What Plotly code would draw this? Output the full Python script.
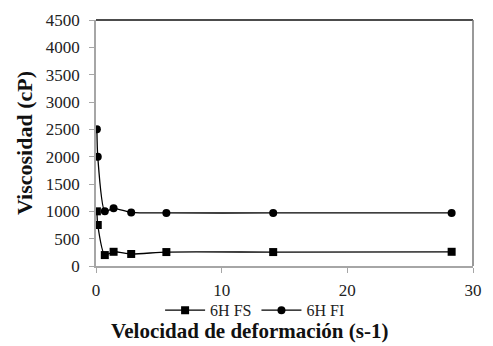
import plotly.graph_objects as go

shear_rate = [0.07, 0.14, 0.7, 1.4, 2.8, 5.6, 14.1, 28.3]
visc_fs = [1000, 750, 200, 260, 220, 255, 255, 260]
visc_fi = [2500, 2000, 1000, 1055, 980, 970, 970, 970]

x_ticks = [0, 10, 20, 30]
y_ticks = [0, 500, 1000, 1500, 2000, 2500, 3000, 3500, 4000, 4500]

font = "Liberation Serif, Times New Roman, serif"

fig = go.Figure()
fig.add_trace(go.Scatter(
    x=shear_rate, y=visc_fs, name="6H FS", mode="lines+markers",
    line=dict(color="black", width=1.3, shape="spline", smoothing=0.6),
    marker=dict(symbol="square", size=8, color="black"),
))
fig.add_trace(go.Scatter(
    x=shear_rate, y=visc_fi, name="6H FI", mode="lines+markers",
    line=dict(color="black", width=1.3, shape="spline", smoothing=0.6),
    marker=dict(symbol="circle", size=8, color="black"),
))

fig.update_layout(
    width=493, height=346,
    margin=dict(l=96, r=11, t=18, b=80),
    paper_bgcolor="white", plot_bgcolor="white",
    font=dict(family=font, size=17, color="#222"),
    showlegend=True,
    legend=dict(orientation="h", x=0.422, xanchor="center", y=-0.18, yanchor="middle",
                font=dict(family=font, size=16, color="#222"),
                itemwidth=40, tracegroupgap=0, bgcolor="rgba(0,0,0,0)"),
    xaxis=dict(range=[0, 30], tickvals=x_ticks, showgrid=False, zeroline=False,
               showline=True, linecolor="#a6a6a6", linewidth=1.5,
               ticks="outside", ticklen=5, tickcolor="#a6a6a6", ticklabelstandoff=3,
               tickfont=dict(family=font, size=17, color="#222"), mirror=False),
    yaxis=dict(range=[0, 4500], tickvals=y_ticks, showgrid=False, zeroline=False,
               showline=True, linecolor="#a6a6a6", linewidth=1.5,
               ticks="outside", ticklen=5, tickcolor="#a6a6a6", ticklabelstandoff=6,
               tickfont=dict(family=font, size=17, color="#222"),
               title=dict(text="<b>Viscosidad (cP)</b>", font=dict(family=font, size=22, color="#111"),
                          standoff=7)),
    shapes=[
        dict(type="line", xref="paper", yref="paper", x0=0, x1=1, y0=1, y1=1,
             line=dict(color="#111", width=1.5)),
        dict(type="line", xref="paper", yref="paper", x0=1, x1=1, y0=0, y1=1,
             line=dict(color="#777", width=1.5)),
    ],
    annotations=[
        dict(text="<b>Velocidad de deformación (s-1)</b>", xref="paper", yref="paper",
             x=0.408, y=-0.3226, xanchor="center", yanchor="bottom", showarrow=False,
             font=dict(family=font, size=21, color="#111")),
    ],
)

fig.write_html("out.html")
